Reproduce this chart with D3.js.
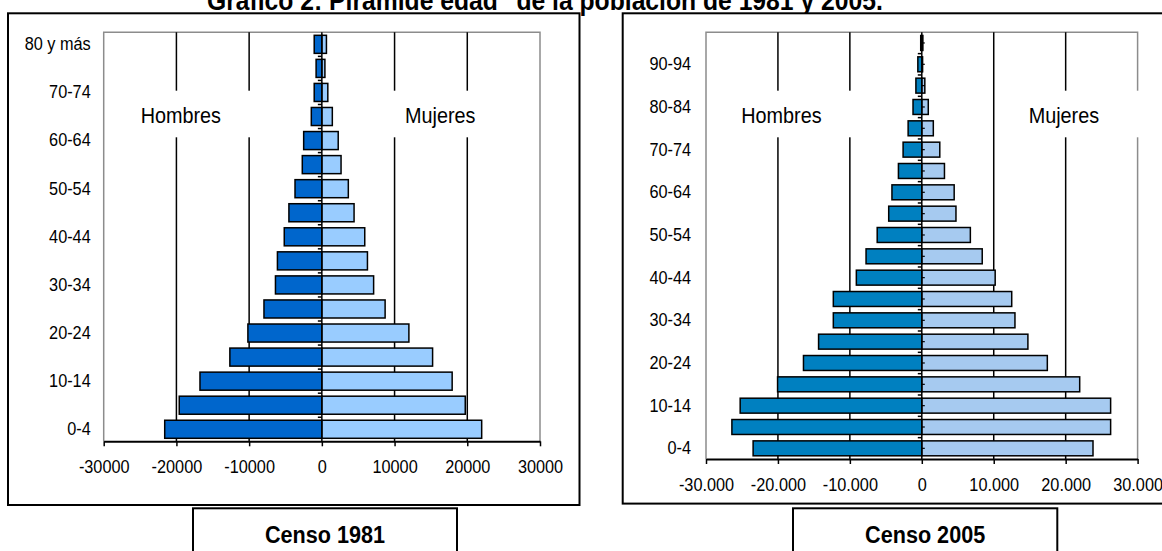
<!DOCTYPE html>
<html><head><meta charset="utf-8">
<script src="https://cdn.jsdelivr.net/npm/d3@7"></script>
<style>
body{margin:0;background:#fff;}
svg{display:block;font-family:"Liberation Sans",Arial,Helvetica,sans-serif;}
</style></head><body>
<svg id="c" width="1162" height="551"></svg>
<script>
// ---------- DATA ----------
const ages1981 = ["0-4","5-9","10-14","15-19","20-24","25-29","30-34","35-39","40-44","45-49","50-54","55-59","60-64","65-69","70-74","75-79","80 y más"];
const men1981   = [21610,19610,16760,12650,10170,7960,6380,6110,5170,4530,3690,2690,2500,1450,1050,790,1050];
const women1981 = [21980,19720,17920,15230,11970,8700,7120,6270,5900,4430,3640,2640,2250,1440,820,420,630];

const ages2005 = ["0-4","5-9","10-14","15-19","20-24","25-29","30-34","35-39","40-44","45-49","50-54","55-59","60-64","65-69","70-74","75-79","80-84","85-89","90-94","95 y más"];
const men2005   = [23450,26400,25250,20050,16450,14350,12300,12300,9100,7750,6200,4600,4150,3250,2600,1900,1220,820,550,150];
const women2005 = [23800,26250,26250,21950,17450,14750,12950,12500,10200,8400,6750,4750,4500,3150,2500,1600,900,420,110,150];

const xTicks = [-30000,-20000,-10000,0,10000,20000,30000];
const gridValues = [-20000,-10000,10000,20000];
const sideLabels = ["Hombres","Mujeres"];
const titleText = "Gráfico 2: Pirámide edad\" de la población de 1981 y 2005.";
const censusLabels = ["Censo 1981","Censo 2005"];

// ---------- LAYOUT ----------
const svg = d3.select("#c");
const SX = 0.88;
const fmt1981 = d => String(d);
const loc = d3.formatLocale({decimal:",",thousands:".",grouping:[3],currency:["",""],minus:"-"});
const fmt2005 = loc.format(",d");

const charts = [
  {ages:ages1981, men:men1981, women:women1981, fmt:fmt1981,
   frame:{x:8,y:13.3,w:571.5,h:491.7},
   plot:{l:103.7,r:540,t:32.3,b:441.3},
   labGap:13, menColor:"#0066CC", womenColor:"#99CCFF", pad:0.25,
   boxes:[[130,256],[385,500]], labX:[140.7,405], labY:122.7, boxY:[90.7,137.3],
   census:{x0:193,x1:457,y:508.3}, censusText:censusLabels[0], rightTicks:false},
  {ages:ages2005, men:men2005, women:women2005, fmt:fmt2005,
   frame:{x:622.7,y:13.3,w:600,h:490.3},
   plot:{l:706,r:1137.6,t:32.3,b:459},
   labGap:15, menColor:"#0080C0", womenColor:"#A6CAF0", pad:0.3,
   boxes:[[730,862],[1005,1146]], labX:[741.3,1028.7], labY:123.3, boxY:[90.7,137.3],
   census:{x0:793,x1:1057.3,y:508.3}, censusText:censusLabels[1], rightTicks:true}
];

// Title
svg.append("g").attr("transform","translate(207,9.5)")
  .append("text").attr("transform","scale(0.915,1)")
  .attr("font-size",27).attr("font-weight","bold").attr("fill","#000")
  .text(titleText);

charts.forEach(c => {
  const g = svg.append("g");
  const x = d3.scaleLinear().domain([-30000,30000]).range([c.plot.l,c.plot.r]);
  const y = d3.scaleBand().domain(c.ages).range([c.plot.b,c.plot.t]).paddingInner(c.pad).paddingOuter(c.pad/2);

  // outer frame
  g.append("rect").attr("x",c.frame.x).attr("y",c.frame.y).attr("width",c.frame.w).attr("height",c.frame.h)
    .attr("fill","#fff").attr("stroke","#000").attr("stroke-width",2);

  // plot border (gray) top/left/right
  g.append("path")
    .attr("d",`M${c.plot.l},${c.plot.b}V${c.plot.t}H${c.plot.r}V${c.plot.b}`)
    .attr("fill","none").attr("stroke","#8c8c8c").attr("stroke-width",1.5);

  // gridlines
  g.append("g").selectAll("line").data(gridValues).join("line")
    .attr("x1",d=>x(d)).attr("x2",d=>x(d)).attr("y1",c.plot.t).attr("y2",c.plot.b)
    .attr("stroke","#000").attr("stroke-width",1.5);

  // white label boxes + labels
  c.boxes.forEach((b,i) => {
    g.append("rect").attr("x",b[0]).attr("y",c.boxY[0]).attr("width",b[1]-b[0]).attr("height",c.boxY[1]-c.boxY[0]).attr("fill","#fff");
    g.append("g").attr("transform",`translate(${c.labX[i]},${c.labY})`)
      .append("text").attr("transform",`scale(${SX},1)`).attr("font-size",22.5).attr("fill","#000").text(sideLabels[i]);
  });

  // bars
  const bh = y.bandwidth();
  g.append("g").selectAll("rect").data(c.ages).join("rect")
    .attr("x",(d,i)=>x(-c.men[i])).attr("y",d=>y(d)).attr("width",(d,i)=>x(0)-x(-c.men[i])).attr("height",bh)
    .attr("fill",c.menColor).attr("stroke","#000").attr("stroke-width",1.5);
  g.append("g").selectAll("rect").data(c.ages).join("rect")
    .attr("x",x(0)).attr("y",d=>y(d)).attr("width",(d,i)=>x(c.women[i])-x(0)).attr("height",bh)
    .attr("fill",c.womenColor).attr("stroke","#000").attr("stroke-width",1.5);

  // zero axis with small ticks at category boundaries
  g.append("line").attr("x1",x(0)).attr("x2",x(0)).attr("y1",c.plot.t).attr("y2",c.plot.b)
    .attr("stroke","#000").attr("stroke-width",1.5);
  const step = y.step();
  const bounds = c.ages.map((d,i)=> c.plot.b - i*step).slice(1);
  g.append("g").selectAll("line").data(bounds).join("line")
    .attr("x1",x(0)-4).attr("x2",x(0)).attr("y1",d=>d).attr("y2",d=>d)
    .attr("stroke","#000").attr("stroke-width",1.5);
  if (c.rightTicks) {
    g.append("g").selectAll("line").data(c.ages).join("line")
      .attr("x1",x(0)).attr("x2",x(0)+3).attr("y1",d=>y(d)+bh/2).attr("y2",d=>y(d)+bh/2)
      .attr("stroke","#000").attr("stroke-width",1.2);
  }

  // y-axis labels (every other category)
  const yAxis = d3.axisLeft(y).tickValues(c.ages.filter((d,i)=>i%2===0)).tickSize(0).tickPadding(c.labGap);
  const ya = g.append("g").attr("transform",`translate(${c.plot.l},0)`).call(yAxis);
  ya.select(".domain").remove();
  ya.selectAll("text").attr("font-size",18.5).attr("font-family",null).attr("fill","#000")
    .attr("x",-c.labGap/SX).attr("transform",`scale(${SX},1)`);

  // x-axis
  const xAxis = d3.axisBottom(x).tickValues(xTicks).tickSize(5).tickSizeOuter(0).tickPadding(14).tickFormat(c.fmt);
  const xa = g.append("g").attr("transform",`translate(0,${c.plot.b})`).call(xAxis);
  xa.select(".domain").attr("stroke","#000").attr("stroke-width",2);
  xa.selectAll(".tick line").attr("stroke","#000").attr("stroke-width",1.5);
  xa.selectAll("text").attr("font-size",18.5).attr("font-family",null).attr("fill","#000")
    .attr("transform",`scale(${SX},1)`);

  // census label box
  g.append("rect").attr("x",c.census.x0).attr("y",c.census.y).attr("width",c.census.x1-c.census.x0).attr("height",80)
    .attr("fill","#fff").attr("stroke","#000").attr("stroke-width",2);
  g.append("g").attr("transform",`translate(${(c.census.x0+c.census.x1)/2},543)`)
    .append("text").attr("transform","scale(0.9,1)").attr("text-anchor","middle")
    .attr("font-size",24).attr("font-weight","bold").attr("fill","#000").text(c.censusText);
});
</script>
</body></html>
